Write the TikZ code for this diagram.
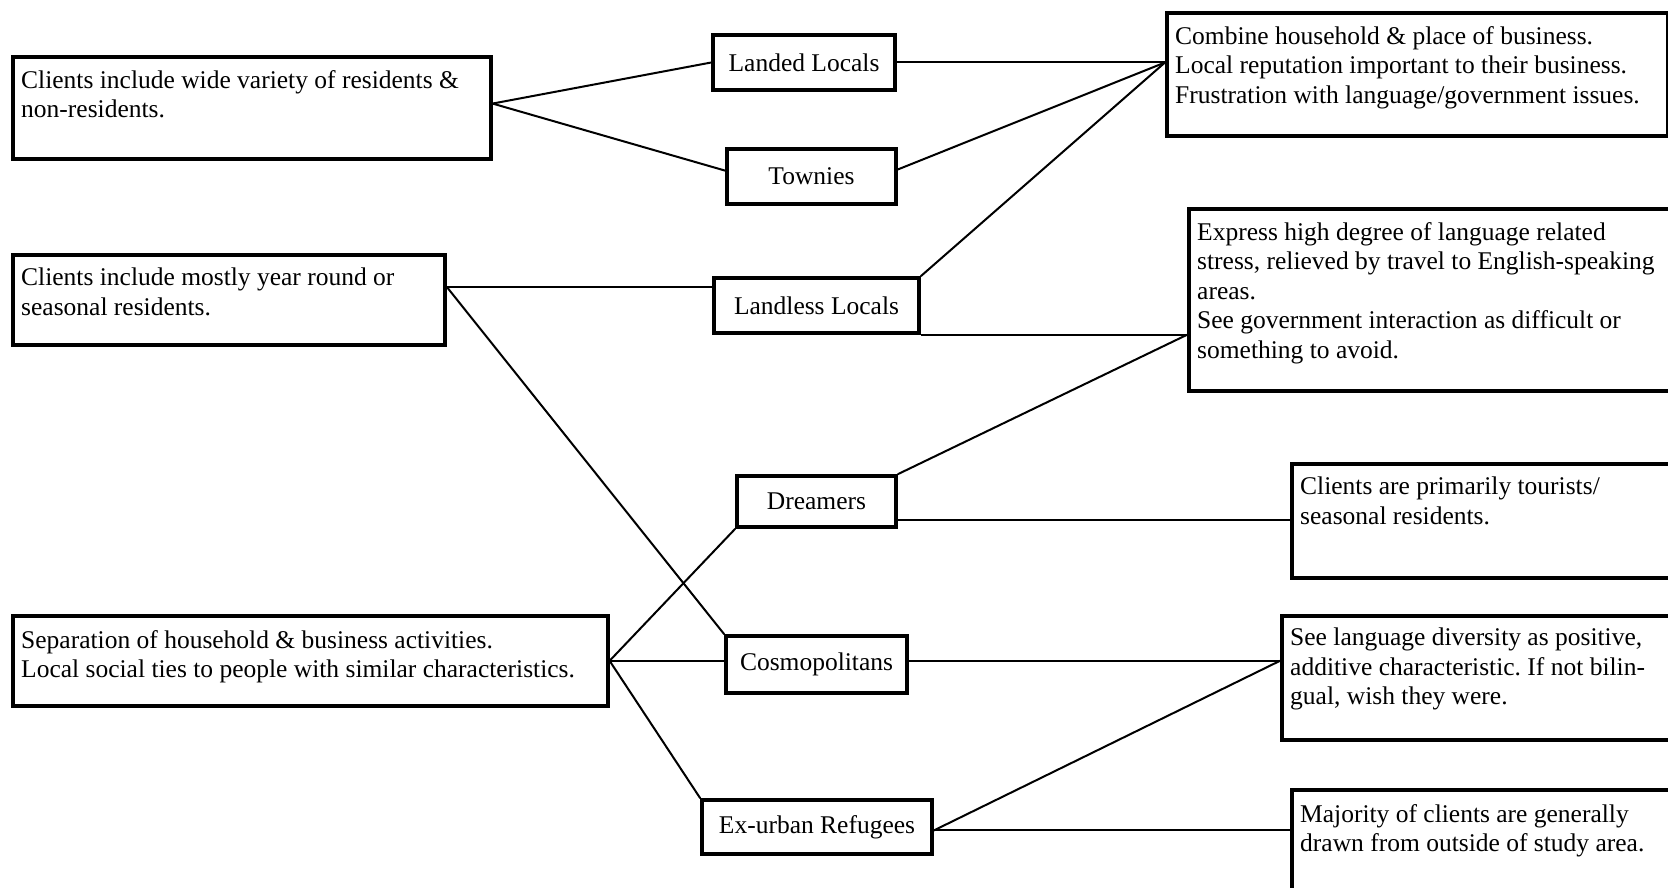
\documentclass[tikz,border=0pt]{standalone}
\usepackage{fontspec}
\setmainfont{Liberation Serif}
\usetikzlibrary{calc}
\frenchspacing
\begin{document}
\begin{tikzpicture}[x=1pt,y=-1pt,
  box/.style={draw, line width=3.6pt, inner sep=0pt, anchor=north west},
  txt/.style={anchor=north west, inner sep=0pt, align=left, font=\fontsize{25.5}{29.5}\selectfont},
  lbl/.style={draw, line width=3.6pt, inner sep=0pt, font=\fontsize{25.5}{29.5}\selectfont},
  conn/.style={line width=2pt}]
\useasboundingbox (0,0) rectangle (1668,888);

% left boxes
\node[box, minimum width=478pt, minimum height=102pt] (A) at (11,55) {};
\node[box, minimum width=432pt, minimum height=90pt] (B) at (11,253) {};
\node[box, minimum width=595pt, minimum height=90pt] (C) at (11,614) {};
\node[txt] (At) at ($(A.north west)+(10,15)$) {Clients include wide variety of residents \&\\non-residents.};
\node[txt] (Bt) at ($(B.north west)+(10,15)$) {Clients include mostly year round or\\seasonal residents.};
\node[txt] (Ct) at ($(C.north west)+(10,16)$) {Separation of household \& business activities.\\Local social ties to people with similar characteristics.};

% middle labels
\node[lbl, minimum width=182pt, minimum height=55pt] (LL) at (804,62.5) {Landed Locals};
\node[lbl, minimum width=169pt, minimum height=55pt] (TW) at (811.5,176.5) {Townies};
\node[lbl, minimum width=205pt, minimum height=55pt] (LS) at (816.5,305.5) {Landless Locals};
\node[lbl, minimum width=159pt, minimum height=51pt] (DR) at (816.5,501.5) {Dreamers};
\node[lbl, minimum width=181pt, minimum height=57pt] (CO) at (816.5,664.5) {Cosmopolitans};
\node[lbl, minimum width=230pt, minimum height=54pt] (EX) at (817,827) {Ex-urban Refugees};

% right boxes
\node[box, minimum width=501pt, minimum height=123pt] (CB) at (1165,11) {};
\node[box, minimum width=520pt, minimum height=182pt] (EP) at (1187,207) {};
\node[box, minimum width=420pt, minimum height=114pt] (PR) at (1290,462) {};
\node[box, minimum width=420pt, minimum height=124pt] (SL) at (1280,614) {};
\node[box, minimum width=420pt, minimum height=130pt] (MJ) at (1290,788) {};
\node[txt] (CBt) at ($(CB.north west)+(10,15)$) {Combine household \& place of business.\\Local reputation important to their business.\\Frustration with language/government issues.};
\node[txt] (EPt) at ($(EP.north west)+(10,15)$) {Express high degree of language related\\stress, relieved by travel to English-speaking\\areas.\\See government interaction as difficult or\\something to avoid.};
\node[txt] (PRt) at ($(PR.north west)+(10,15)$) {Clients are primarily tourists/\\seasonal residents.};
\node[txt] (SLt) at ($(SL.north west)+(10,14)$) {See language diversity as positive,\\additive characteristic. If not bilin-\\gual, wish they were.};
\node[txt] (MJt) at ($(MJ.north west)+(10,16)$) {Majority of clients are generally\\drawn from outside of study area.};

% connection points
\coordinate (Ap) at ($(A.north east)!0.46!(A.south east)$);
\coordinate (Bp) at ($(B.north east)!0.36!(B.south east)$);
\coordinate (CBp) at (CB.west |- LL.east);
\coordinate (TWw) at ($(TW.north west)!0.4!(TW.south west)$);
\coordinate (TWe) at ($(TW.north east)!0.38!(TW.south east)$);
\coordinate (LSw) at (LS.west |- Bp);
\coordinate (EPp) at (EP.west |- LS.south east);
\coordinate (DRe) at ($(DR.north east)!0.83!(DR.south east)$);
\coordinate (PRp) at (PR.west |- DRe);
\coordinate (COw) at (CO.west |- C.east);
\coordinate (COe) at (CO.east |- C.east);
\coordinate (SLp) at (SL.west |- C.east);
\coordinate (EXe) at ($(EX.north east)!0.56!(EX.south east)$);
\coordinate (MJp) at (MJ.west |- EXe);

% connectors
\draw[conn] (Ap) -- (LL.west);
\draw[conn] (Ap) -- (TWw);
\draw[conn] (LL.east) -- (CBp);
\draw[conn] (TWe) -- (CBp);
\draw[conn] (LS.north east) -- (CBp);
\draw[conn] (Bp) -- (LSw);
\draw[conn] (Bp) -- (CO.north west);
\draw[conn] (LS.south east) -- (EPp);
\draw[conn] (DR.north east) -- (EPp);
\draw[conn] (DRe) -- (PRp);
\draw[conn] (C.east) -- (DR.south west);
\draw[conn] (C.east) -- (COw);
\draw[conn] (C.east) -- (EX.north west);
\draw[conn] (COe) -- (SLp);
\draw[conn] (EXe) -- (SLp);
\draw[conn] (EXe) -- (MJp);
\end{tikzpicture}
\end{document}
